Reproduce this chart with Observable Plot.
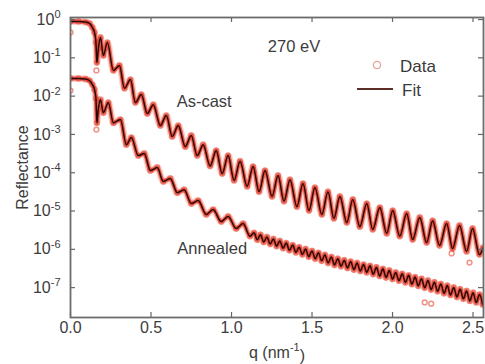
<!DOCTYPE html>
<html><head><meta charset="utf-8">
<script src="https://cdn.jsdelivr.net/npm/d3@7"></script>
<script src="https://cdn.jsdelivr.net/npm/@observablehq/plot@0.6"></script>
<style>
body{margin:0;background:#fff;font-family:"Liberation Sans",Arial,sans-serif;}
#wrap{position:relative;width:485px;height:364px;overflow:hidden;}
#wrap svg{position:absolute;left:0;top:0;}
</style></head><body><div id="wrap"></div>
<script>
// ---- data ----
const asCastQ = [0.000,0.050,0.093,0.118,0.136,0.149,0.158,0.164,0.173,0.186,0.204,0.229,0.266,0.304,0.335,0.372,0.403,0.440,0.477,0.514,0.558,0.595,0.632,0.669,0.713,0.750,0.787,0.824,0.867,0.905,0.942,0.979,1.016,1.053,1.097,1.134,1.171,1.208,1.252,1.289,1.326,1.363,1.406,1.444,1.481,1.518,1.561,1.599,1.636,1.673,1.716,1.753,1.797,1.840,1.877,1.921,1.964,2.001,2.045,2.088,2.125,2.169,2.212,2.249,2.292,2.336,2.373,2.416,2.460,2.497,2.540,2.562];
const asCastR = [0.89,0.89,0.86,0.79,0.62,0.46,0.25,0.075,0.175,0.34,0.115,0.25,0.047,0.063,0.016,0.027,0.0068,0.011,0.0035,0.0060,0.0017,0.0031,8.8e-4,1.7e-3,4.8e-4,9.4e-4,2.8e-4,5.4e-4,1.5e-4,3.8e-4,9.5e-5,2.8e-4,6.3e-5,2.0e-4,4.4e-5,1.45e-4,3.2e-5,1.14e-4,2.4e-5,8.5e-5,1.8e-5,6.6e-5,1.3e-5,5.2e-5,1.03e-5,4.1e-5,8.1e-6,3.2e-5,6.4e-6,2.4e-5,5.0e-6,2.0e-5,3.9e-6,1.57e-5,3.3e-6,1.23e-5,2.6e-6,1.03e-5,2.2e-6,8.6e-6,1.8e-6,6.8e-6,1.5e-6,5.6e-6,1.26e-6,4.7e-6,1.05e-6,4.2e-6,8.8e-7,3.5e-6,7.3e-7,1.1e-6];

const annealedQ = [0.000,0.050,0.093,0.118,0.136,0.149,0.158,0.164,0.173,0.186,0.204,0.235,0.266,0.310,0.347,0.378,0.421,0.458,0.496,0.539,0.576,0.620,0.663,0.706,0.750,0.793,0.843,0.886,0.936,0.979,1.029,1.072,1.115,
 1.14,1.16,1.18,1.20,1.22,1.24,1.26,1.28,1.30,1.32,1.34,1.36,1.38,1.40,1.42,1.44,1.46,1.48,1.50,1.52,1.54,1.56,1.58,1.60,1.62,1.64,1.66,1.68,1.70,1.72,1.74,1.76,1.78,1.80,1.82,1.84,1.86,1.88,1.90,1.92,1.94,1.96,1.98,2.00,2.02,2.04,2.06,2.08,2.10,2.12,2.14,2.16,2.18,2.20,2.22,2.24,2.26,2.28,2.30,2.32,2.34,2.36,2.38,2.40,2.42,2.44,2.46,2.48,2.50,2.52,2.54,2.56];
const annealedR = [0.029,0.029,0.028,0.0255,0.020,0.0149,0.0087,0.0020,0.0047,0.0081,0.0037,0.0068,0.0020,0.00245,5.4e-4,8.3e-4,2.8e-4,3.2e-4,1.14e-4,1.37e-4,5.9e-5,7.1e-5,3.0e-5,3.6e-5,1.57e-5,1.88e-5,8.1e-6,1.09e-5,5.3e-6,7.2e-6,3.5e-6,4.7e-6,2.2e-6,
 2.7e-6,1.77e-6,2.4e-6,1.55e-6,2.1e-6,1.37e-6,1.87e-6,1.21e-6,1.66e-6,1.07e-6,1.46e-6,9.4e-7,1.29e-6,8.3e-7,1.14e-6,7.3e-7,1.02e-6,6.4e-7,9.1e-7,5.7e-7,8.1e-7,5.0e-7,7.2e-7,4.4e-7,6.3e-7,3.9e-7,5.7e-7,3.6e-7,5.2e-7,3.25e-7,4.8e-7,2.95e-7,4.4e-7,2.7e-7,4.0e-7,2.5e-7,3.7e-7,2.25e-7,3.4e-7,2.0e-7,3.1e-7,1.84e-7,2.8e-7,1.67e-7,2.5e-7,1.51e-7,2.3e-7,1.37e-7,2.1e-7,1.23e-7,1.89e-7,1.11e-7,1.71e-7,9.9e-8,1.54e-7,8.9e-8,1.39e-7,8.0e-8,1.25e-7,7.1e-8,1.13e-7,6.4e-8,1.01e-7,5.7e-8,9.1e-8,5.1e-8,8.2e-8,4.5e-8,7.4e-8,4.1e-8,6.6e-8,3.6e-8];

// scattered data circles away from the fit
const extraDataQ = [0.000,0.161,0.000,0.161,2.367,2.478,2.200,2.240];
const extraDataR = [0.46,0.047,0.014,1.34e-3,7.8e-7,4.5e-7,4.1e-8,3.8e-8];

const xTicks = [0,0.5,1,1.5,2,2.5];
const xTickLabels = ["0.0","0.5","1.0","1.5","2.0","2.5"];
const yTicks = [1,1e-1,1e-2,1e-3,1e-4,1e-5,1e-6,1e-7];
const yTickExponents = ["0","-1","-2","-3","-4","-5","-6","-7"];

const labelText = ["270 eV","As-cast","Annealed"];
const labelQ = [1.388,0.83,0.88];
const labelR = [0.197,7.2e-3,1.05e-6];

const legendLabels = ["Data","Fit"];

// ---- build tables ----
const seriesList = [
  {name:"As-cast", q:asCastQ, R:asCastR},
  {name:"Annealed", q:annealedQ, R:annealedR}
];
const rows = seriesList.flatMap(s => s.q.slice(0, Math.min(s.q.length, s.R.length)).map((q,i)=>({series:s.name, q, R:s.R[i]})));
const extraRows = extraDataQ.map((q,i)=>({q, R:extraDataR[i]}));
const labels = labelText.map((t,i)=>({text:t, q:labelQ[i], R:labelR[i]}));

const chart = Plot.plot({
  width:485, height:364,
  marginLeft:70, marginRight:2, marginTop:17, marginBottom:47,
  style:{fontFamily:'"Liberation Sans", Arial, sans-serif', background:"#fff"},
  x:{domain:[0,2.565]},
  y:{type:"log", domain:[1.66e-8,1.13]},
  marks:[
    Plot.line(rows,{x:"q",y:"R",z:"series",stroke:"#f26a55",strokeOpacity:0.3,strokeWidth:7,curve:"monotone-x",clip:true}),
    Plot.line(rows,{x:"q",y:"R",z:"series",stroke:"#e3321f",strokeOpacity:0.75,strokeWidth:4,curve:"monotone-x",clip:true}),
    Plot.dot(rows.concat(extraRows),{x:"q",y:"R",r:2.4,stroke:"#e23a28",strokeOpacity:0.55,fill:"none",clip:true}),
    Plot.line(rows,{x:"q",y:"R",z:"series",stroke:"#2a0805",strokeWidth:1.5,curve:"monotone-x",clip:true}),
    Plot.text(labels,{x:"q",y:"R",text:"text",fontSize:16.5,fill:"#3c3c3c"}),
    Plot.tickX(xTicks,{x:d=>d,insetTop:295,stroke:"#666",strokeWidth:1.2}),
    Plot.tickX(xTicks,{x:d=>d,insetBottom:295,stroke:"#666",strokeWidth:1.2}),
    Plot.tickY(yTicks,{y:d=>d,insetRight:408,stroke:"#666",strokeWidth:1.2}),
    Plot.tickY(yTicks,{y:d=>d,insetLeft:408,stroke:"#666",strokeWidth:1.2}),
    Plot.frame({stroke:"#6b6b6b",strokeWidth:1.8}),
    Plot.axisX(xTicks,{tickSize:0,tickPadding:4,tickFormat:d=>xTickLabels[xTicks.indexOf(d)],fontSize:16,color:"#3c3c3c",label:"q (nm-1)",labelAnchor:"center",labelOffset:40,labelArrow:"none"}),
    Plot.axisY(yTicks,{tickSize:0,tickPadding:10,tickFormat:()=>"10",fontSize:16,color:"#3c3c3c",label:"Reflectance",labelAnchor:"center",labelOffset:54,labelArrow:"none"})
  ]
});

const svg = d3.select(chart);
svg.selectAll('g[aria-label="y-axis tick label"] text').each(function(d,i){
  const t = d3.select(this);
  t.text("10");
  t.append("tspan").attr("dy","-0.6em").attr("font-size","11px").text(yTickExponents[i]);
});
svg.selectAll('g[aria-label="x-axis label"] text').each(function(){
  const t = d3.select(this);
  t.text("q (nm");
  t.append("tspan").attr("dy","-0.6em").attr("font-size","11px").text("-1");
  t.append("tspan").attr("dy","0.6em").text(")");
});

document.getElementById("wrap").appendChild(chart);

// legend overlay
const lg = d3.select("#wrap").append("svg").attr("width",485).attr("height",364)
  .style("font-family",'"Liberation Sans", Arial, sans-serif');
lg.append("circle").attr("cx",377).attr("cy",65).attr("r",3.6).attr("fill","none").attr("stroke","#e3a595").attr("stroke-width",1.3);
lg.append("line").attr("x1",357).attr("x2",393).attr("y1",89).attr("y2",89).attr("stroke","#5c2e28").attr("stroke-width",2);
lg.selectAll("text").data(legendLabels).join("text")
  .attr("x",(d,i)=>i===0?400:402).attr("y",(d,i)=>i===0?66:90)
  .attr("dominant-baseline","central").attr("font-size",17).attr("fill","#3a3a3a").text(d=>d);
</script></body></html>
